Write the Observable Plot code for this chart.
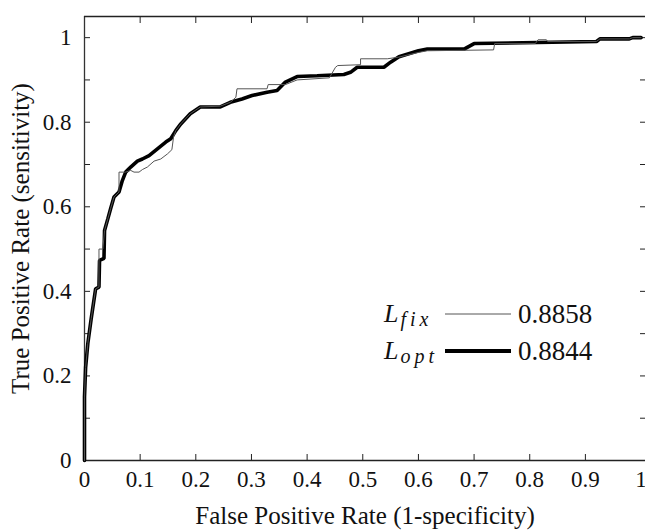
<!DOCTYPE html>
<html><head><meta charset="utf-8">
<script src="https://cdn.jsdelivr.net/npm/d3@7"></script>
<script src="https://cdn.jsdelivr.net/npm/@observablehq/plot@0.6"></script>
<style>
html,body{margin:0;padding:0;background:#fff;overflow:hidden}
#wrap{position:relative;width:645px;height:530px}
#wrap svg, #wrap svg text{font-family:"Liberation Serif","DejaVu Serif","Times New Roman",serif !important}
</style></head><body><div id="wrap"></div>
<script>
// L_opt curve (thick)
const optX = [0,0,0.002,0.006,0.012,0.02,0.026,0.027,0.035,0.036,0.042,0.047,0.053,0.062,0.068,0.074,0.083,0.095,0.104,0.116,0.131,0.146,0.155,0.164,0.173,0.19,0.208,0.244,0.262,0.283,0.301,0.328,0.346,0.361,0.382,0.418,0.466,0.478,0.49,0.538,0.55,0.565,0.6,0.616,0.682,0.7,0.92,0.926,0.979,0.985,1];
const optY = [0,0.15,0.22,0.277,0.335,0.406,0.41,0.473,0.478,0.544,0.572,0.596,0.623,0.635,0.662,0.682,0.694,0.708,0.713,0.721,0.737,0.753,0.761,0.78,0.796,0.82,0.836,0.836,0.847,0.855,0.863,0.871,0.875,0.895,0.908,0.91,0.913,0.918,0.93,0.93,0.942,0.955,0.969,0.973,0.973,0.986,0.991,0.997,0.997,1,1];
// L_fix curve (thin)
const fixX = [0,0,0.002,0.006,0.012,0.02,0.026,0.026,0.033,0.036,0.042,0.047,0.053,0.062,0.062,0.074,0.083,0.089,0.098,0.104,0.113,0.125,0.137,0.149,0.157,0.16,0.164,0.173,0.19,0.208,0.244,0.262,0.272,0.274,0.328,0.33,0.361,0.382,0.44,0.451,0.455,0.496,0.496,0.544,0.565,0.6,0.616,0.735,0.737,0.81,0.815,0.83,0.832,0.92,0.926,0.979,0.985,1];
const fixY = [0,0.15,0.22,0.277,0.335,0.406,0.41,0.5,0.5,0.544,0.572,0.596,0.623,0.635,0.682,0.682,0.686,0.682,0.682,0.688,0.694,0.708,0.713,0.725,0.735,0.765,0.78,0.796,0.82,0.836,0.838,0.847,0.859,0.879,0.879,0.889,0.889,0.9,0.905,0.93,0.934,0.936,0.95,0.95,0.954,0.965,0.969,0.971,0.986,0.986,0.995,0.995,0.991,0.991,0.997,0.997,1,1];

const xTickValues = [0,0.1,0.2,0.3,0.4,0.5,0.6,0.7,0.8,0.9,1];
const yTickValues = [0,0.1,0.2,0.3,0.4,0.5,0.6,0.7,0.8,0.9,1];
const yLabelValues = [0,0.2,0.4,0.6,0.8,1];
const xTitle = "False Positive Rate (1-specificity)";
const yTitle = "True Positive Rate (sensitivity)";
const legendNames = ["fix","opt"];
const legendAUC = ["0.8858","0.8844"];

const font = "\"Liberation Serif\", \"DejaVu Serif\", \"Times New Roman\", serif";
const opt = optX.map((x,i)=>({x, y: optY[i]}));
const fix = fixX.map((x,i)=>({x, y: fixY[i]}));
const inner = v => v.filter(d => d > 0 && d < 1);

const chart = Plot.plot({
  width: 645, height: 530,
  marginTop: 16, marginBottom: 70, marginLeft: 84, marginRight: 0,
  style: {fontFamily: font, fontSize: "23px", color: "#111", background: "#fff"},
  x: {domain: [0, 1.008]},
  y: {domain: [0, 1.05]},
  marks: [
    Plot.axisX(inner(xTickValues), {anchor: "bottom", tickSize: -6, tickFormat: () => "", label: null, stroke: "#222"}),
    Plot.axisX(inner(xTickValues), {anchor: "top", tickSize: -6, tickFormat: () => "", label: null, stroke: "#222"}),
    Plot.axisY(yTickValues.slice(1), {anchor: "left", tickSize: -6, tickFormat: () => "", label: null, stroke: "#222"}),
    Plot.axisY(yTickValues.slice(1), {anchor: "right", tickSize: -6, tickFormat: () => "", label: null, stroke: "#222"}),
    Plot.axisX(xTickValues, {anchor: "bottom", tickSize: 0, tickPadding: 10, tickFormat: d => String(d), label: null, fontSize: 23}),
    Plot.axisY(yLabelValues, {anchor: "left", tickSize: 0, tickPadding: 13, tickFormat: d => String(d), label: null, fontSize: 23}),
    Plot.axisX([], {anchor: "bottom", tickSize: 0, label: xTitle, labelAnchor: "center", labelOffset: 63, labelArrow: "none", fontSize: 25}),
    Plot.axisY([], {anchor: "left", tickSize: 0, label: yTitle, labelAnchor: "center", labelOffset: 73, labelArrow: "none", fontSize: 25}),
    Plot.ruleX([0], {stroke: "#333", strokeWidth: 1.3}),
    Plot.ruleY([0, 1.05], {stroke: "#222", strokeWidth: 1.3}),
    Plot.line(opt, {x: "x", y: "y", stroke: "#000", strokeWidth: 3.6, strokeLinejoin: "miter"}),
    Plot.line(fix, {x: "x", y: "y", stroke: "#555", strokeWidth: 1})
  ]
});
const wrap = document.getElementById("wrap");
wrap.appendChild(chart);

// Legend overlay
const leg = d3.select(wrap).append("svg")
  .attr("width", 645).attr("height", 530)
  .style("position", "absolute").style("left", 0).style("top", 0)
  .style("pointer-events", "none");
const rowBase = [322, 359];
const rowStroke = [{c: "#555", w: 1}, {c: "#000", w: 4}];
legendNames.forEach((n, i) => {
  const b = rowBase[i];
  const t = leg.append("text").attr("x", 384).attr("y", b).attr("font-size", 26).attr("font-style", "italic").attr("fill", "#111");
  t.append("tspan").text("L");
  t.append("tspan").attr("dx", 2).attr("dy", 4).attr("font-size", 20).attr("letter-spacing", 4).text(n);
  leg.append("line").attr("x1", 445).attr("x2", 511).attr("y1", b - 8).attr("y2", b - 8)
    .attr("stroke", rowStroke[i].c).attr("stroke-width", rowStroke[i].w);
  leg.append("text").attr("x", 518).attr("y", b + 1).attr("font-size", 27).attr("fill", "#111").text(legendAUC[i]);
});
</script>
</body></html>
